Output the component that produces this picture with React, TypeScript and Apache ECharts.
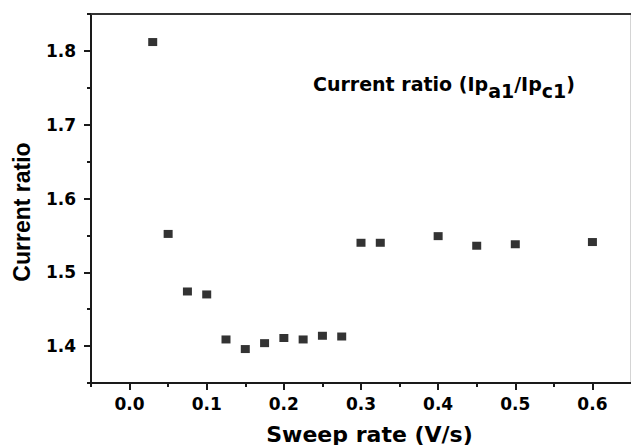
import React, { useEffect, useRef } from "react";
import * as echarts from "echarts";

const sweepRates = [0.03, 0.05, 0.075, 0.1, 0.125, 0.15, 0.175, 0.2, 0.225, 0.25, 0.275, 0.3, 0.325, 0.4, 0.45, 0.5, 0.6];
const currentRatios = [1.812, 1.552, 1.474, 1.47, 1.409, 1.396, 1.404, 1.411, 1.409, 1.414, 1.413, 1.54, 1.54, 1.549, 1.536, 1.538, 1.541];

const xMajorTicks = [0, 0.1, 0.2, 0.3, 0.4, 0.5, 0.6];
const xMinorTicks = [-0.05, 0.05, 0.15, 0.25, 0.35, 0.45, 0.55];
const yMajorTicks = [1.4, 1.5, 1.6, 1.7, 1.8];
const yMinorTicks = [1.35, 1.45, 1.55, 1.65, 1.75, 1.85];

const X_MIN = -0.05;
const X_MAX = 0.65;
const Y_MIN = 1.35;
const Y_MAX = 1.85;

const xTitle = "Sweep rate (V/s)";
const yTitle = "Current ratio";

export default function App() {
  const ref = useRef<HTMLDivElement>(null);
  useEffect(() => {
    const chart = echarts.init(ref.current!, null, { renderer: "svg" });
    const axisColor = "#1a1a1a";
    const labelFont = {
      fontFamily: "DejaVu Sans",
      fontWeight: "bold",
      fontSize: 17,
      color: "#000",
    };
    const tickStyle = { color: axisColor, width: 2 };
    const annFont = {
      fontFamily: "DejaVu Sans",
      fontWeight: "bold",
      fontSize: 19,
      fill: "#000",
    };
    chart.setOption({
      animation: false,
      backgroundColor: "#ffffff",
      grid: {
        left: 91,
        right: 0,
        top: 14,
        bottom: 62,
        show: true,
        borderColor: "#a8a8a8",
        borderWidth: 1,
        backgroundColor: "transparent",
      },
      xAxis: [
        {
          type: "value",
          position: "bottom",
          min: X_MIN,
          max: X_MAX,
          axisLine: { show: true, onZero: false, lineStyle: { color: axisColor, width: 2 } },
          axisTick: { show: true, customValues: xMajorTicks, length: 7, lineStyle: tickStyle },
          axisLabel: {
            show: true,
            customValues: xMajorTicks,
            margin: 12,
            formatter: (v: number) => v.toFixed(1),
            ...labelFont,
          },
          splitLine: { show: false },
        },
        {
          type: "value",
          position: "bottom",
          min: X_MIN,
          max: X_MAX,
          axisLine: { show: false, onZero: false },
          axisTick: { show: true, customValues: xMinorTicks, length: 4, lineStyle: tickStyle },
          axisLabel: { show: false },
          splitLine: { show: false },
        },
        {
          type: "value",
          position: "top",
          min: X_MIN,
          max: X_MAX,
          axisLine: { show: true, onZero: false, lineStyle: { color: "#333", width: 2 } },
          axisTick: { show: false },
          axisLabel: { show: false },
          splitLine: { show: false },
        },
      ],
      yAxis: [
        {
          type: "value",
          position: "left",
          min: Y_MIN,
          max: Y_MAX,
          axisLine: { show: true, onZero: false, lineStyle: { color: axisColor, width: 2 } },
          axisTick: { show: true, customValues: yMajorTicks, length: 7, lineStyle: tickStyle },
          axisLabel: {
            show: true,
            customValues: yMajorTicks,
            margin: 15,
            formatter: (v: number) => v.toFixed(1),
            ...labelFont,
          },
          splitLine: { show: false },
        },
        {
          type: "value",
          position: "left",
          min: Y_MIN,
          max: Y_MAX,
          axisLine: { show: false, onZero: false },
          axisTick: { show: true, customValues: yMinorTicks, length: 4, lineStyle: tickStyle },
          axisLabel: { show: false },
          splitLine: { show: false },
        },
      ],
      series: [
        {
          type: "scatter",
          xAxisIndex: 0,
          yAxisIndex: 0,
          symbol: "rect",
          symbolSize: [9, 8],
          itemStyle: { color: "#000" },
          data: sweepRates.map((x, i) => [x, currentRatios[i]]),
        },
      ],
      graphic: [
        {
          type: "text",
          x: 22,
          y: 212,
          rotation: Math.PI / 2,
          style: {
            text: yTitle,
            fontFamily: "Liberation Sans",
            fontWeight: "bold",
            fontSize: 23,
            fill: "#000",
            align: "center",
            verticalAlign: "middle",
          },
        },
        {
          type: "text",
          x: 369.5,
          y: 434,
          style: {
            text: xTitle,
            fontFamily: "DejaVu Sans",
            fontWeight: "bold",
            fontSize: 22,
            fill: "#000",
            align: "center",
            verticalAlign: "middle",
          },
        },
        {
          type: "text",
          x: 313,
          y: 84,
          style: {
            text: "{m|Current ratio (Ip}{s|a1}{m|/Ip}{s|c1}{m|)}",
            align: "left",
            verticalAlign: "middle",
            rich: {
              m: { ...annFont },
              s: { ...annFont, padding: [14, 0, 0, 0] },
            },
          },
        },
      ],
    });
    return () => chart.dispose();
  }, []);
  return (
    <div
      ref={ref}
      style={{ position: "fixed", left: 0, top: 0, width: 631, height: 445, background: "#fff" }}
    />
  );
}
